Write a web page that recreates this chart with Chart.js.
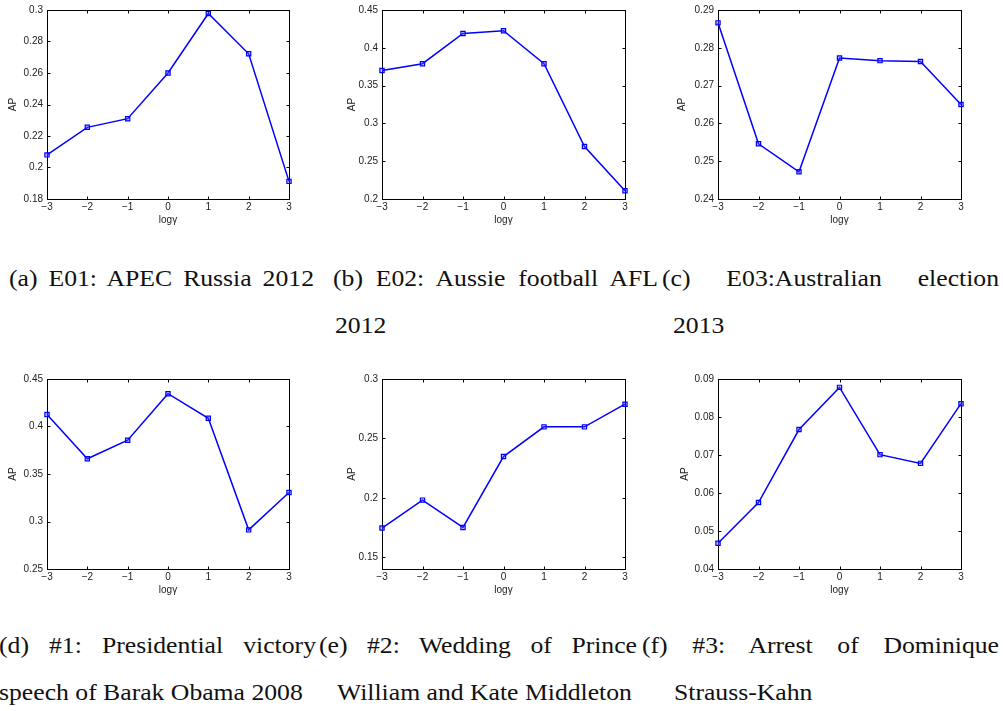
<!DOCTYPE html>
<html>
<head>
<meta charset="utf-8">
<script src="https://cdn.jsdelivr.net/npm/chart.js@4/dist/chart.umd.min.js"></script>
<style>
  html, body { margin: 0; padding: 0; background: #fff; }
  #page { position: relative; width: 1003px; height: 711px; overflow: hidden; background: #fff; }
  canvas { position: absolute; }
  .cap { position: absolute; font-family: "Liberation Serif", "Times New Roman", serif; font-size: 24px;
         line-height: 24px; color: #111; white-space: nowrap; transform: scaleX(1.07); transform-origin: 0 0; }
  .cap.just { white-space: normal; text-align: justify; text-align-last: justify; }
</style>
</head>
<body>
<div id="page"></div>
<script>
// x values (log gamma) and their tick labels
const logGamma = [-3, -2, -1, 0, 1, 2, 3];
const xTickLabels = ['−3', '−2', '−1', '0', '1', '2', '3'];

// average precision per event
const apE01 = [0.2080, 0.2255, 0.2310, 0.2600, 0.2978, 0.2722, 0.1912];
const apE02 = [0.3700, 0.3790, 0.4190, 0.4225, 0.3790, 0.2695, 0.2110];
const apE03 = [0.2866, 0.2546, 0.2472, 0.2773, 0.2766, 0.2764, 0.2650];
const apObama = [0.4127, 0.3660, 0.3856, 0.4345, 0.4086, 0.2912, 0.3305];
const apWedding = [0.1745, 0.1980, 0.1750, 0.2347, 0.2597, 0.2597, 0.2788];
const apDSK = [0.0468, 0.0575, 0.0767, 0.0878, 0.0701, 0.0678, 0.0835];

// y tick values per panel
const ticksE01 = [0.18, 0.2, 0.22, 0.24, 0.26, 0.28, 0.3];
const ticksE02 = [0.2, 0.25, 0.3, 0.35, 0.4, 0.45];
const ticksE03 = [0.24, 0.25, 0.26, 0.27, 0.28, 0.29];
const ticksObama = [0.25, 0.3, 0.35, 0.4, 0.45];
const ticksWedding = [0.15, 0.2, 0.25, 0.3];
const ticksDSK = [0.04, 0.05, 0.06, 0.07, 0.08, 0.09];

// sub-figure captions: first (justified) line and continuation line
const captionFirst = [
  '(a) E01: APEC Russia 2012',
  '(b) E02: Aussie football AFL',
  '(c) E03:Australian election',
  '(d) #1: Presidential victory',
  '(e) #2: Wedding of Prince',
  '(f) #3: Arrest of Dominique'
];
const captionSecond = ['', '2012', '2013', 'speech of Barak Obama 2008', 'William and Kate Middleton', 'Strauss-Kahn'];

const page = document.getElementById('page');

// panel geometry: canvas box, plot box, axis title offsets
const panels = [
  { data: apE01, ticks: ticksE01, min: 0.18, max: 0.30, cx: 0,   cy: 0,   cw: 330, ch: 240, pl: 47,  pr: 289, pt: 10,  pb: 199, yt: 7,  xt: 14 },
  { data: apE02, ticks: ticksE02, min: 0.20, max: 0.45, cx: 330, cy: 0,   cw: 330, ch: 240, pl: 382, pr: 625, pt: 10,  pb: 199, yt: 16, xt: 14 },
  { data: apE03, ticks: ticksE03, min: 0.24, max: 0.29, cx: 660, cy: 0,   cw: 343, ch: 240, pl: 718, pr: 961, pt: 10,  pb: 199, yt: 16, xt: 14 },
  { data: apObama, ticks: ticksObama, min: 0.25, max: 0.45, cx: 0,   cy: 360, cw: 330, ch: 240, pl: 47,  pr: 289, pt: 379, pb: 569, yt: 7,  xt: 4 },
  { data: apWedding, ticks: ticksWedding, min: 0.14, max: 0.30, cx: 330, cy: 360, cw: 330, ch: 240, pl: 382, pr: 625, pt: 379, pb: 569, yt: 16, xt: 4 },
  { data: apDSK, ticks: ticksDSK, min: 0.04, max: 0.09, cx: 660, cy: 360, cw: 343, ch: 240, pl: 718, pr: 961, pt: 379, pb: 569, yt: 19, xt: 4 }
];

// axes box with inward tick marks on all four sides
const frame = {
  id: 'frame',
  beforeDatasetsDraw(chart) {
    const { ctx, chartArea: a, scales: { x, y } } = chart;
    const L = Math.round(a.left) + 0.5, R = Math.round(a.right) + 0.5;
    const T = Math.round(a.top) + 0.5, B = Math.round(a.bottom) + 0.5;
    ctx.save();
    ctx.strokeStyle = '#000';
    ctx.lineWidth = 1;
    ctx.beginPath();
    x.ticks.forEach(t => {
      const px = Math.round(x.getPixelForValue(t.value)) + 0.5;
      ctx.moveTo(px, B); ctx.lineTo(px, B - 3);
      ctx.moveTo(px, T); ctx.lineTo(px, T + 3);
    });
    y.ticks.forEach(t => {
      const py = Math.round(y.getPixelForValue(t.value)) + 0.5;
      ctx.moveTo(L, py); ctx.lineTo(L + 3, py);
      ctx.moveTo(R, py); ctx.lineTo(R - 3, py);
    });
    ctx.stroke();
    ctx.strokeRect(L, T, R - L, B - T);
    ctx.restore();
  }
};

const tickFont = { family: '"Liberation Sans", Arial, sans-serif', size: 10 };

panels.forEach(p => {
  const cv = document.createElement('canvas');
  cv.width = p.cw; cv.height = p.ch;
  cv.style.left = p.cx + 'px'; cv.style.top = p.cy + 'px';
  cv.style.width = p.cw + 'px'; cv.style.height = p.ch + 'px';
  page.appendChild(cv);

  new Chart(cv, {
    type: 'line',
    data: {
      datasets: [{
        data: logGamma.map((g, i) => ({ x: g, y: p.data[i] })),
        borderColor: '#0000ff',
        borderWidth: 1.5,
        pointStyle: 'rect',
        pointRadius: 3,
        pointBorderWidth: 1.2,
        pointBorderColor: '#0000ff',
        pointBackgroundColor: 'rgba(90,90,255,0.35)',
        tension: 0,
        clip: false
      }]
    },
    plugins: [frame],
    options: {
      responsive: false,
      animation: false,
      devicePixelRatio: 1,
      layout: { padding: { top: p.pt - p.cy, right: p.cx + p.cw - p.pr, left: 0, bottom: 0 } },
      plugins: { legend: { display: false }, tooltip: { enabled: false } },
      scales: {
        x: {
          type: 'linear',
          min: -3, max: 3,
          grid: { display: false, drawTicks: false },
          border: { display: false },
          afterBuildTicks: s => { s.ticks = logGamma.map(v => ({ value: v })); },
          afterFit: s => { s.height = p.cy + p.ch - p.pb; },
          ticks: {
            font: tickFont, color: '#222', padding: 2, maxRotation: 0, autoSkip: false,
            callback: v => xTickLabels[logGamma.indexOf(v)]
          },
          title: { display: true, text: 'logγ', font: tickFont, color: '#222', padding: { top: 0, bottom: p.xt } }
        },
        y: {
          type: 'linear',
          min: p.min, max: p.max,
          grid: { display: false, drawTicks: false },
          border: { display: false },
          afterBuildTicks: s => { s.ticks = p.ticks.map(v => ({ value: v })); },
          afterFit: s => { s.width = p.pl - p.cx; },
          ticks: {
            font: tickFont, color: '#222', padding: 4, autoSkip: false,
            callback: v => String(v)
          },
          title: { display: true, text: 'AP', font: tickFont, color: '#222', padding: { top: p.yt, bottom: 0 } }
        }
      }
    }
  });
});

// captions: positions of first and continuation lines (baseline ~ top + 20)
const SX = 1.07;
const capPos = [
  { x: 9,   w: 305, y1: 266, x2: 0,   y2: 0 },
  { x: 333, w: 325, y1: 266, x2: 335, y2: 313 },
  { x: 662, w: 337, y1: 266, x2: 673, y2: 313 },
  { x: -1,  w: 317, y1: 633, x2: -1,  y2: 680 },
  { x: 319, w: 318, y1: 633, x2: 337, y2: 680 },
  { x: 642, w: 357, y1: 633, x2: 674, y2: 680 }
];
capPos.forEach((c, i) => {
  const d = document.createElement('div');
  d.className = 'cap just';
  d.style.left = c.x + 'px';
  d.style.top = c.y1 + 'px';
  d.style.width = (c.w / SX) + 'px';
  d.textContent = captionFirst[i];
  page.appendChild(d);
  if (captionSecond[i]) {
    const e = document.createElement('div');
    e.className = 'cap';
    e.style.left = c.x2 + 'px';
    e.style.top = c.y2 + 'px';
    e.textContent = captionSecond[i];
    page.appendChild(e);
  }
});
</script>
</body>
</html>
